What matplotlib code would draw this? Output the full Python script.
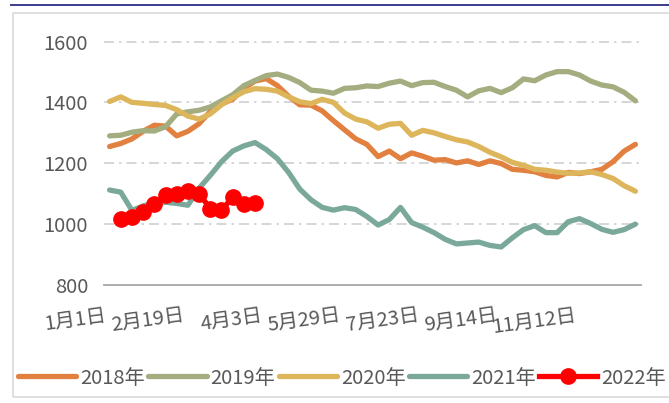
import numpy as np
import matplotlib
matplotlib.use("Agg")
import matplotlib.pyplot as plt
from matplotlib.lines import Line2D
from matplotlib.patches import Rectangle
import matplotlib.transforms as mtransforms

plt.rcParams['font.family'] = ['Noto Sans CJK SC', 'DejaVu Sans']

# ---- data -------------------------------------------------------------
tick_labels = ['1月1日', '2月19日', '4月3日', '5月29日', '7月23日', '9月14日', '11月12日']
tick_index = [0, 7, 14, 21, 28, 35, 42]

y2018 = [1255, 1265, 1280, 1305, 1325, 1322, 1290, 1305, 1330, 1370,
         1395, 1410, 1446, 1470, 1478, 1455, 1420, 1392, 1391, 1372,
         1340, 1310, 1280, 1262, 1222, 1240, 1215, 1234, 1223, 1210,
         1212, 1201, 1208, 1196, 1208, 1199, 1180, 1177, 1172, 1160,
         1155, 1170, 1166, 1172, 1180, 1205, 1240, 1262]
y2019 = [1290, 1292, 1302, 1307, 1306, 1320, 1362, 1369, 1374, 1385,
         1405, 1425, 1455, 1472, 1488, 1493, 1482, 1465, 1440, 1437,
         1430, 1446, 1448, 1454, 1452, 1463, 1470, 1455, 1465, 1466,
         1452, 1440, 1418, 1438, 1446, 1432, 1448, 1477, 1471, 1490,
         1501, 1501, 1490, 1470, 1457, 1451, 1433, 1405]
y2020 = [1403, 1418, 1400, 1397, 1393, 1390, 1376, 1355, 1345, 1362,
         1392, 1415, 1435, 1445, 1443, 1437, 1418, 1402, 1396, 1410,
         1400, 1365, 1345, 1336, 1315, 1328, 1331, 1292, 1308, 1300,
         1288, 1277, 1270, 1255, 1236, 1221, 1203, 1193, 1180, 1177,
         1171, 1167, 1168, 1172, 1163, 1150, 1126, 1108]
y2021 = [1112, 1105, 1045, 1060, 1070, 1072, 1068, 1062, 1118, 1160,
         1205, 1240, 1257, 1268, 1245, 1215, 1170, 1115, 1080, 1055,
         1046, 1054, 1048, 1025, 997, 1015, 1055, 1005, 990, 972,
         950, 935, 938, 941, 930, 925, 955, 982, 995, 972,
         972, 1008, 1018, 1002, 983, 973, 982, 1000]
y2022 = [np.nan, 1018, 1023, 1040, 1067, 1095, 1100, 1109, 1100, 1051,
         1045, 1089, 1067, 1071]

series = [
    ('2018年', y2018, '#E2803F'),
    ('2019年', y2019, '#A3AD7F'),
    ('2020年', y2020, '#DDB55B'),
    ('2021年', y2021, '#7AA99B'),
]

# ---- figure -----------------------------------------------------------
W, H = 669, 403
fig = plt.figure(figsize=(W / 100, H / 100), dpi=100)
fig.patch.set_facecolor('white')

# outer frame and top rule
fig.add_artist(Rectangle((13 / W, (H - 397) / H), (W - 13 + 10) / W, (397 - 13) / H,
                         transform=fig.transFigure, fill=False,
                         edgecolor='#d9d9d9', lw=1.2))
fig.add_artist(Line2D([11 / W, 1.0], [1 - 5 / H, 1 - 5 / H],
                      transform=fig.transFigure, color='#3b3b8c', lw=1.4))

ax = fig.add_axes([104 / W, (H - 285) / H, (641 - 104) / W, (285 - 41.5) / H])

n = len(y2018)
x = np.arange(n)
LW = 3.8
MS = 11
FS = 14.5
for name, ys, col in series:
    ax.plot(x, ys, color=col, lw=LW, solid_capstyle='round',
            solid_joinstyle='round', zorder=3)
x22 = np.arange(len(y2022))
ax.plot(x22, y2022, color='#FF0000', lw=LW, marker='o', markersize=MS,
        solid_capstyle='round', zorder=4)

ax.set_xlim(-0.5, n - 0.5)
ax.set_ylim(800, 1600)

# horizontal grid (dash-dot) and solid base axis
for v in [1000, 1200, 1400, 1600]:
    ax.axhline(v, color='#d0d0d0', lw=1.2, dashes=(6, 3, 1.5, 3),
               zorder=1, clip_on=False)
for s in ['top', 'right', 'left']:
    ax.spines[s].set_visible(False)
ax.spines['bottom'].set_color('#a6a6a6')
ax.spines['bottom'].set_linewidth(1.3)

ax.set_yticks([800, 1000, 1200, 1400, 1600])
ax.tick_params(axis='y', length=0, pad=11.5, labelsize=FS, labelcolor='#595959')
ax.set_xticks([])

# slanted category labels
offset = mtransforms.ScaledTranslation(-5 / 100, -20 / 100, fig.dpi_scale_trans)
for idx, lab in zip(tick_index, tick_labels):
    ax.text(idx, 800, lab, transform=ax.transData + offset, ha='right', va='top',
            rotation=8, rotation_mode='anchor', fontsize=FS, color='#595959')

# legend
handles = [Line2D([], [], color=c, lw=LW, solid_capstyle='round') for _, _, c in series]
handles.append(Line2D([], [], color='#FF0000', lw=LW, marker='o', markersize=MS))
names = [s[0] for s in series] + ['2022年']
fig.legend(handles, names, loc='center', bbox_to_anchor=(342 / W, 1 - 378 / H),
           ncol=5, frameon=False, handlelength=2.9, handletextpad=0.2,
           columnspacing=0.16, fontsize=FS, labelcolor='#595959',
           borderaxespad=0, borderpad=0)

fig.savefig('out.png', dpi=100)
